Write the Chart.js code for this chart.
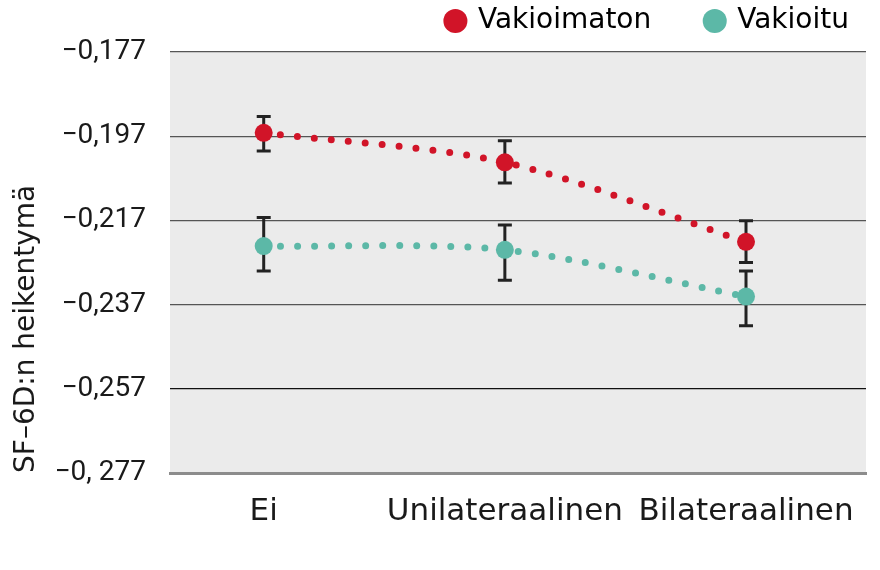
<!DOCTYPE html>
<html>
<head>
<meta charset="utf-8">
<script src="https://cdn.jsdelivr.net/npm/chart.js@4.4.1/dist/chart.umd.min.js"></script>
<style>
  html, body { margin: 0; padding: 0; background: #fff; }
  #wrap { width: 880px; height: 570px; }
</style>
</head>
<body>
<div id="wrap"><canvas id="chart"></canvas></div>
<script>
// categories on the x axis
var categories = ['Ei', 'Unilateraalinen', 'Bilateraalinen'];

// series values (SF-6D decrement)
var vakioimaton = [-0.1962, -0.2032, -0.2221];
var vakioimatonLow = [-0.2005, -0.2081, -0.2270];
var vakioimatonHigh = [-0.1923, -0.1981, -0.2171];

var vakioitu = [-0.2231, -0.2240, -0.2351];
var vakioituLow = [-0.2290, -0.2312, -0.2420];
var vakioituHigh = [-0.2163, -0.2181, -0.2290];

// y tick values and their labels
var yTicks = [-0.177, -0.197, -0.217, -0.237, -0.257, -0.277];
var yTickLabels = ['\u22120,177', '\u22120,197', '\u22120,217', '\u22120,237', '\u22120,257', '\u22120, 277'];

var red = '#d11428';
var teal = '#5cb8a7';
var legendGap = 55;

function points(values) {
  return values.map(function (v, i) { return { x: i, y: v }; });
}

// grey plot background
var plotBg = {
  id: 'plotBg',
  beforeDraw: function (chart) {
    var a = chart.chartArea, ctx = chart.ctx;
    ctx.save();
    ctx.fillStyle = '#ebebeb';
    ctx.fillRect(a.left, a.top, a.right - a.left, a.bottom - a.top);
    ctx.restore();
  }
};

// keep the legend box short and push it to the top right corner
var legendPlace = {
  id: 'legendPlace',
  beforeUpdate: function (chart) {
    var lg = chart.legend;
    if (lg && !lg._fitWrapped) {
      var fit = lg.fit;
      lg.fit = function () {
        fit.apply(this, arguments);
        this.height = 52;
      };
      lg._fitWrapped = true;
    }
  },
  afterLayout: function (chart) {
    var lg = chart.legend;
    if (!lg) return;
    lg.top = 7 - legendGap;
    lg.bottom = 52;
    lg.right = 849 + legendGap;
  }
};

// error bars, drawn under the markers
var errorBars = {
  id: 'errorBars',
  beforeDatasetsDraw: function (chart) {
    var ctx = chart.ctx, xs = chart.scales.x, ys = chart.scales.y;
    var sets = [[vakioimatonLow, vakioimatonHigh], [vakioituLow, vakioituHigh]];
    ctx.save();
    ctx.strokeStyle = '#222';
    ctx.lineWidth = 3;
    sets.forEach(function (s) {
      for (var i = 0; i < categories.length; i++) {
        var x = xs.getPixelForValue(i);
        var y1 = ys.getPixelForValue(s[0][i]);
        var y2 = ys.getPixelForValue(s[1][i]);
        ctx.beginPath();
        ctx.moveTo(x, y1); ctx.lineTo(x, y2);
        ctx.moveTo(x - 7, y1); ctx.lineTo(x + 7, y1);
        ctx.moveTo(x - 7, y2); ctx.lineTo(x + 7, y2);
        ctx.stroke();
      }
    });
    ctx.restore();
  }
};

new Chart(document.getElementById('chart'), {
  type: 'line',
  data: {
    datasets: [{
      label: 'Vakioimaton',
      data: points(vakioimaton),
      borderColor: red,
      backgroundColor: red,
      borderWidth: 7,
      borderDash: [0, 17],
      borderCapStyle: 'round',
      tension: 0.3,
      pointRadius: 9,
      pointBorderWidth: 0,
      pointHoverRadius: 9
    }, {
      label: 'Vakioitu',
      data: points(vakioitu),
      borderColor: teal,
      backgroundColor: teal,
      borderWidth: 7,
      borderDash: [0, 17],
      borderCapStyle: 'round',
      tension: 0.3,
      pointRadius: 9,
      pointBorderWidth: 0,
      pointHoverRadius: 9
    }]
  },
  options: {
    responsive: true,
    maintainAspectRatio: false,
    animation: false,
    layout: { padding: { left: 0, right: 14, top: 0, bottom: 0 } },
    plugins: {
      tooltip: { enabled: false },
      legend: {
        position: 'top',
        align: 'end',
        labels: {
          usePointStyle: true,
          boxHeight: 17,
          boxWidth: 17,
          padding: legendGap,
          color: '#1a1a1a',
          font: { family: 'DejaVu Sans', size: 28 },
          generateLabels: function (chart) {
            return chart.data.datasets.map(function (d, i) {
              return {
                text: d.label,
                fillStyle: d.backgroundColor,
                strokeStyle: d.backgroundColor,
                lineWidth: 0,
                pointStyle: 'circle',
                datasetIndex: i,
                hidden: false
              };
            });
          }
        }
      }
    },
    scales: {
      x: {
        type: 'linear',
        min: -0.3886,
        max: 2.4976,
        afterBuildTicks: function (scale) {
          scale.ticks = categories.map(function (c, i) { return { value: i }; });
        },
        afterFit: function (scale) { scale.height = 97; },
        grid: { display: false },
        border: { display: true, color: '#8c8c8c', width: 3 },
        ticks: {
          padding: 12,
          color: '#1a1a1a',
          font: { family: 'DejaVu Sans', size: 31 },
          maxRotation: 0,
          autoSkip: false,
          callback: function (v) { return categories[v]; }
        }
      },
      y: {
        min: -0.277,
        max: -0.177,
        afterBuildTicks: function (scale) {
          scale.ticks = yTicks.map(function (v) { return { value: v }; });
        },
        afterFit: function (scale) { scale.width = 170; },
        grid: {
          color: function (c) { return c.index === 4 ? '#111' : '#555'; },
          lineWidth: 1.3,
          drawTicks: false
        },
        border: { display: false },
        ticks: {
          padding: 24,
          color: '#1a1a1a',
          font: { family: 'Roboto', size: 28 },
          callback: function (v, i) { return yTickLabels[i]; }
        },
        title: {
          display: true,
          text: 'SF\u20136D:n heikentymä',
          align: 'start',
          color: '#1a1a1a',
          font: { family: 'DejaVu Sans', size: 28 },
          padding: { top: 10, bottom: 0 }
        }
      }
    }
  },
  plugins: [plotBg, legendPlace, errorBars]
});
</script>
</body>
</html>
